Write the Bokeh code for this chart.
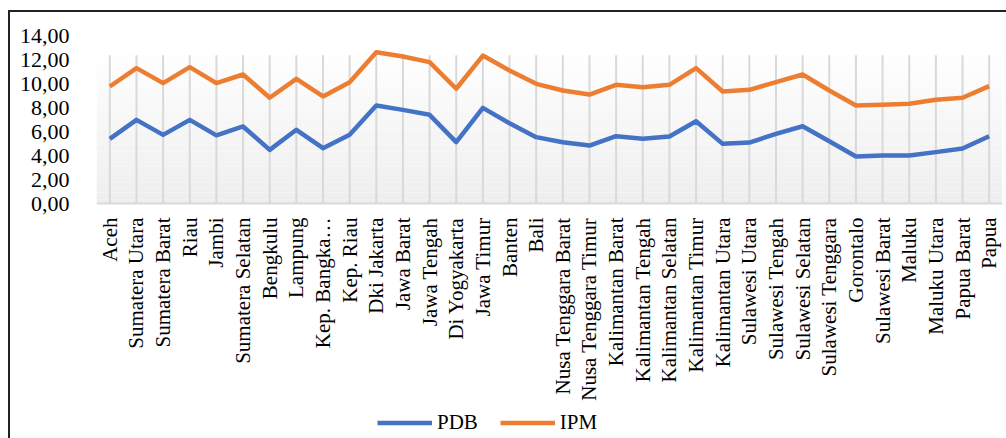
import math
from bokeh.plotting import figure
from bokeh.models import FactorRange, Range1d, FixedTicker, BoxAnnotation, Span, ColumnDataSource
from bokeh.core.properties import value
from bokeh.embed import file_html
from bokeh.resources import INLINE

provinces = ["Aceh", "Sumatera Utara", "Sumatera Barat", "Riau", "Jambi", "Sumatera Selatan",
             "Bengkulu", "Lampung", "Kep. Bangka\u2026", "Kep. Riau", "Dki Jakarta", "Jawa Barat",
             "Jawa Tengah", "Di Yogyakarta", "Jawa Timur", "Banten", "Bali", "Nusa Tenggara Barat",
             "Nusa Tenggara Timur", "Kalimantan Barat", "Kalimantan Tengah", "Kalimantan Selatan",
             "Kalimantan Timur", "Kalimantan Utara", "Sulawesi Utara", "Sulawesi Tengah",
             "Sulawesi Selatan", "Sulawesi Tenggara", "Gorontalo", "Sulawesi Barat", "Maluku",
             "Maluku Utara", "Papua Barat", "Papua"]

pdb = [5.39, 6.97, 5.72, 6.97, 5.68, 6.42, 4.47, 6.14, 4.61, 5.72, 8.17, 7.80,
       7.39, 5.11, 7.97, 6.69, 5.53, 5.11, 4.83, 5.61, 5.39, 5.58, 6.86, 4.97,
       5.08, 5.80, 6.44, 5.19, 3.92, 4.00, 4.00, 4.28, 4.58, 5.61]

ipm = [9.75, 11.28, 10.03, 11.36, 10.03, 10.75, 8.81, 10.39, 8.92, 10.11, 12.61, 12.25,
       11.78, 9.56, 12.33, 11.08, 9.97, 9.42, 9.08, 9.89, 9.69, 9.89, 11.28, 9.33,
       9.47, 10.11, 10.75, 9.42, 8.17, 8.22, 8.31, 8.64, 8.81, 9.78]

y_ticks = [0, 2, 4, 6, 8, 10, 12, 14]
y_tick_labels = ["0,00", "2,00", "4,00", "6,00", "8,00", "10,00", "12,00", "14,00"]

FONT = "Liberation Serif"

W, H = 1006, 438
TOP, LEFT, RIGHT = 35, 96, 4
Y_MAX = 14
PX_PER_UNIT = 12.0
y_min = Y_MAX - (H - TOP) / PX_PER_UNIT   # frame extends down to hold labels + legend
PLOT_AREA_TOP = 12.35                     # top of the shaded plot area

p = figure(width=W, height=H, output_backend="svg", toolbar_location=None,
           x_range=FactorRange(*provinces, range_padding=0),
           y_range=Range1d(y_min, Y_MAX), x_axis_location=None,
           min_border_left=LEFT, min_border_right=RIGHT, min_border_top=TOP, min_border_bottom=0)
p.outline_line_color = None
p.background_fill_color = "white"
p.background_fill_alpha = 0
p.border_fill_color = "white"
p.border_fill_alpha = 0
# chart border frame (left and top edges visible in the reference)
p.styles = {
    "background-color": "white",
    "background-image": "linear-gradient(#222222, #222222), linear-gradient(#222222, #222222)",
    "background-size": "100% 2px, 2px 100%",
    "background-position": "8px 10px, 8px 10px",
    "background-repeat": "no-repeat",
}

# plot-area gradient (decorative)
n_bands = 40
for i in range(n_bands):
    t = i / (n_bands - 1)
    c = int(round(0xEE + (0xFE - 0xEE) * t))
    p.add_layout(BoxAnnotation(bottom=PLOT_AREA_TOP * i / n_bands,
                               top=PLOT_AREA_TOP * (i + 1) / n_bands,
                               fill_color="#%02x%02x%02x" % (c, c, c), fill_alpha=1,
                               line_color=None, level="underlay"))

for g in p.grid:
    g.visible = False

n = len(provinces)
grid_src = ColumnDataSource(dict(x=provinces, y0=[0] * n, y1=[PLOT_AREA_TOP] * n))
p.segment(x0="x", y0="y0", x1="x", y1="y1", source=grid_src, line_color="#d9d9d9", line_width=2)
p.add_layout(Span(location=0, dimension="width", line_color="#d9d9d9", line_width=2))

p.line(provinces, pdb, color="#4472C4", line_width=4.5, line_join="round", legend_label="PDB")
p.line(provinces, ipm, color="#ED7D31", line_width=4.5, line_join="round", legend_label="IPM")

# category labels (rotated), hanging below the axis line
lab_src = ColumnDataSource(dict(x=provinces, y=[0] * n, text=provinces))
p.text(x="x", y="y", text="text", source=lab_src, angle=math.pi / 2,
       text_align="right", text_baseline="middle", y_offset=14,
       text_font=value(FONT), text_font_size="21px", text_color="black")

ya = p.yaxis[0]
ya.axis_line_color = None
ya.major_tick_line_color = None
ya.minor_tick_line_color = None
ya.ticker = FixedTicker(ticks=y_ticks)
ya.major_label_overrides = {t: l for t, l in zip(y_ticks, y_tick_labels)}
ya.major_label_text_font = FONT
ya.major_label_text_font_size = "22px"
ya.major_label_text_color = "black"
ya.major_label_standoff = 21

lg = p.legend[0]
lg.orientation = "horizontal"
lg.location = (281, 3.5)
lg.padding = 0
lg.margin = 0
lg.spacing = 22
lg.border_line_color = None
lg.background_fill_alpha = 0
lg.label_text_font = FONT
lg.label_text_font_size = "21px"
lg.label_text_color = "black"
lg.glyph_width = 55
lg.glyph_height = 21
lg.label_height = 21
lg.label_standoff = 5

open("out.html", "w").write(file_html(p, INLINE))
